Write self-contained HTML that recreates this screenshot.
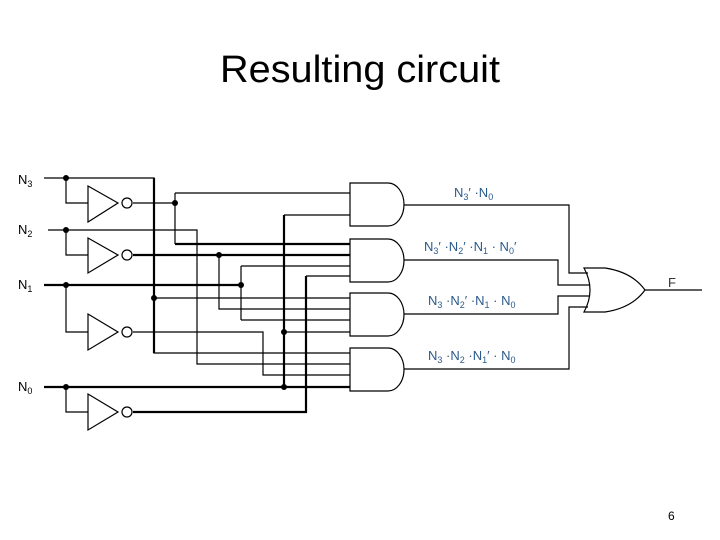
<!DOCTYPE html>
<html><head><meta charset="utf-8"><style>
html,body{margin:0;padding:0;background:#fff;}
svg{display:block;}
text{font-family:"Liberation Sans",sans-serif;}
</style></head><body>
<svg width="720" height="540" viewBox="0 0 720 540" xmlns="http://www.w3.org/2000/svg">
<text x="220" y="82" font-size="38" textLength="280" lengthAdjust="spacingAndGlyphs">Resulting circuit</text>
<text x="668" y="520" font-size="12">6</text>

<g font-size="13">
<text x="18" y="184">N<tspan font-size="9" dy="3">3</tspan></text>
<text x="18" y="234">N<tspan font-size="9" dy="3">2</tspan></text>
<text x="18" y="289">N<tspan font-size="9" dy="3">1</tspan></text>
<text x="18" y="391">N<tspan font-size="9" dy="3">0</tspan></text>
</g>

<g fill="none" stroke="#000" stroke-width="1.2">
<path d="M44 178 H154 V353 H350"/>
<path d="M66 178 V203 H88"/>
<path d="M133 203 H175 M175 193 V244 M175 193 H350"/>
<path d="M154 298 H350"/>
<path d="M48 230 H197 V364 H350"/>
<path d="M66 230 V255 H88"/>
<path d="M219 255 V309 H350"/>
<path d="M241 266 V320 M241 266 H350 M241 320 H350"/>
<path d="M66 285 V332 H88"/>
<path d="M133 332 H263 V375 H350"/>
<path d="M66 387 V412 H88"/>
<path d="M284 215 H350"/>
<path d="M284 332 H350"/>
<path d="M306 276 H350"/>
<path d="M404 205 H569 V273 H588"/>
<path d="M404 260 H558 V285 H590"/>
<path d="M404 314 H558 V296 H590"/>
<path d="M404 369 H569 V307 H588"/>
<path d="M645 290 H702"/>
<path d="M88 186 L118 203 L88 222 Z"/>
<path d="M88 238 L118 255 L88 273 Z"/>
<path d="M88 314 L118 332 L88 350 Z"/>
<path d="M88 394 L118 412 L88 430 Z"/>
<circle cx="127" cy="203" r="5"/>
<circle cx="127" cy="255" r="5"/>
<circle cx="127" cy="332" r="5"/>
<circle cx="127" cy="412" r="5"/>
<path d="M350 183 H388 A16 21.5 0 0 1 388 226 H350 Z"/>
<path d="M350 239 H388 A16 21.5 0 0 1 388 282 H350 Z"/>
<path d="M350 293 H388 A16 21.5 0 0 1 388 336 H350 Z"/>
<path d="M350 348 H388 A16 21.5 0 0 1 388 391 H350 Z"/>
<path d="M584 268 H605 Q632 272 645 290 Q632 308 605 312 H584 Q596 290 584 268 Z"/>
</g>
<g fill="none" stroke="#000" stroke-width="2.2">
<path d="M175 244 H350"/>
<path d="M133 255 H350"/>
<path d="M44 285 H241"/>
<path d="M44 387 H350"/>
<path d="M133 412 H306 V276"/>
<path d="M284 215 V387"/>
<path d="M154 178 V353"/>
</g>
<g fill="#000">
<circle cx="66" cy="178" r="3"/><circle cx="66" cy="230" r="3"/>
<circle cx="66" cy="285" r="3"/><circle cx="66" cy="387" r="3"/>
<circle cx="175" cy="203" r="3"/><circle cx="219" cy="255" r="3"/>
<circle cx="241" cy="285" r="3"/><circle cx="154" cy="298" r="3"/>
<circle cx="284" cy="332" r="3"/><circle cx="284" cy="387" r="3"/>
</g>
<text x="668" y="287" font-size="13" fill="#333">F</text>
<g font-size="13" fill="#2a5a8a">
<text x="454" y="197">N<tspan font-size="9" dy="3">3</tspan><tspan dy="-3">′ ·N</tspan><tspan font-size="9" dy="3">0</tspan></text>
<text x="424" y="251">N<tspan font-size="9" dy="3">3</tspan><tspan dy="-3">′ ·N</tspan><tspan font-size="9" dy="3">2</tspan><tspan dy="-3">′ ·N</tspan><tspan font-size="9" dy="3">1</tspan><tspan dy="-3"> · N</tspan><tspan font-size="9" dy="3">0</tspan><tspan dy="-3">′</tspan></text>
<text x="428" y="305">N<tspan font-size="9" dy="3">3</tspan><tspan dy="-3"> ·N</tspan><tspan font-size="9" dy="3">2</tspan><tspan dy="-3">′ ·N</tspan><tspan font-size="9" dy="3">1</tspan><tspan dy="-3"> · N</tspan><tspan font-size="9" dy="3">0</tspan></text>
<text x="428" y="360">N<tspan font-size="9" dy="3">3</tspan><tspan dy="-3"> ·N</tspan><tspan font-size="9" dy="3">2</tspan><tspan dy="-3"> ·N</tspan><tspan font-size="9" dy="3">1</tspan><tspan dy="-3">′ · N</tspan><tspan font-size="9" dy="3">0</tspan></text>
</g>
</svg>
</body></html>
